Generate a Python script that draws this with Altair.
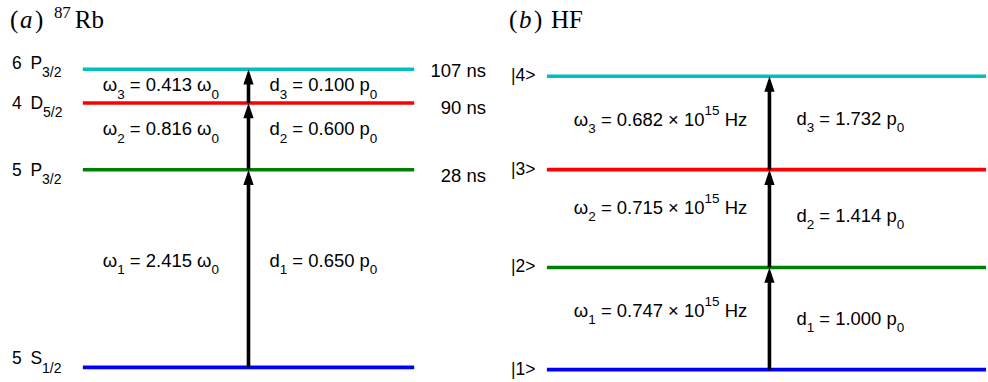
import altair as alt
import pandas as pd

# ---------------- level-scheme data ----------------
# (a) 87Rb ladder, bottom to top
RB_N = ["5", "5", "4", "6"]
RB_L = ["S", "P", "D", "P"]
RB_J = ["1/2", "3/2", "5/2", "3/2"]
RB_OMEGA = [2.415, 0.816, 0.413]      # transition frequencies in units of omega_0
RB_DIPOLE = [0.650, 0.600, 0.100]     # dipole moments in units of p_0
RB_LIFETIME = [None, 28, 90, 107]     # level lifetimes, ns

# (b) HF ladder, bottom to top
HF_KETS = ["|1>", "|2>", "|3>", "|4>"]
HF_OMEGA = [0.747, 0.715, 0.682]      # transition frequencies, x 10^15 Hz
HF_DIPOLE = [1.000, 1.414, 1.732]     # dipole moments in units of p_0

LEVEL_COLORS = ["#0000FF", "#008000", "#FF0000", "#00BFBF"]

# ---------------- layout / styling ----------------
H = 382
SANS = "Liberation Sans"
SERIF = "Liberation Serif"

SANS_W = {" ": .278, ".": .278, "=": .584, "\u00d7": .584, "\u03c9": .781, "H": .722,
          "z": .5, "d": .556, "p": .556, "n": .556, "s": .5, "P": .667, "D": .722,
          "S": .667, "/": .278, "|": .26, ">": .584, "\u2002": .5}
SERIF_W = {"(": .333, ")": .333, " ": .25, "a": .5, "b": .5, "R": .667, "H": .722, "F": .556}

STYLE = {
    "lvl":    dict(font=SANS, size=17.5, shift=0, style="normal", w=SANS_W, dig=.556),
    "lvlsub": dict(font=SANS, size=14, shift=8.5, style="normal", w=SANS_W, dig=.556),
    "m":      dict(font=SANS, size=18.5, shift=0, style="normal", w=SANS_W, dig=.556),
    "sub":    dict(font=SANS, size=13.5, shift=7.5, style="normal", w=SANS_W, dig=.556),
    "sup":    dict(font=SANS, size=13.5, shift=-11, style="normal", w=SANS_W, dig=.556),
    "ser":    dict(font=SERIF, size=25, shift=0, style="normal", w=SERIF_W, dig=.5),
    "seri":   dict(font=SERIF, size=25, shift=0, style="italic", w=SERIF_W, dig=.5),
    "sersup": dict(font=SERIF, size=17, shift=-10, style="normal", w=SERIF_W, dig=.5),
}


def text_width(s, kind):
    st = STYLE[kind]
    return sum(st["dig"] if c.isdigit() else st["w"].get(c, .556) for c in s) * st["size"]


class Panel:
    def __init__(self, base_px, ppu, width):
        self.base_px, self.ppu, self.width = base_px, ppu, width
        self.rows = []

    def px(self, e):
        return self.base_px - e * self.ppu

    def energy(self, y_px):
        return (self.base_px - y_px) / self.ppu

    def domain(self):
        return [self.energy(H), self.energy(0)]

    def rich(self, parts, x, baseline_px):
        """Lay out a run of (text, kind) pieces left to right."""
        cx = x
        for txt, kind in parts:
            lead = len(txt) - len(txt.lstrip(" "))
            body = txt.strip(" ")
            if body:
                self.rows.append(dict(
                    kind=kind, text=body,
                    x=cx + text_width(txt[:lead], kind),
                    y=self.energy(baseline_px + STYLE[kind]["shift"])))
            cx += text_width(txt, kind)

    def placed(self, pieces, baseline_px):
        """Pieces given as (text, kind, x) with their own left edges."""
        for txt, kind, x in pieces:
            self.rich([(txt, kind)], x, baseline_px)


def cumulative(steps):
    out = [0.0]
    for s in steps:
        out.append(out[-1] + s)
    return out


def build(panel, energies, level_len, arrow_x):
    xs = alt.Scale(domain=[0, panel.width], nice=False, zero=False)
    ys = alt.Scale(domain=panel.domain(), nice=False, zero=False)

    levels = pd.DataFrame(dict(x0=0, x1=level_len, y=energies, c=LEVEL_COLORS))
    trans = pd.DataFrame(dict(x=arrow_x, lo=energies[:-1], hi=energies[1:]))
    texts = pd.DataFrame(panel.rows)

    lvl = alt.Chart(levels).mark_rule(strokeWidth=3.6).encode(
        x=alt.X("x0:Q", scale=xs, axis=None), x2="x1:Q",
        y=alt.Y("y:Q", scale=ys, axis=None),
        color=alt.Color("c:N", scale=None))
    shaft = alt.Chart(trans).mark_rule(strokeWidth=3.6, color="black", y2Offset=8).encode(
        x=alt.X("x:Q", scale=xs, axis=None),
        y=alt.Y("lo:Q", scale=ys, axis=None), y2="hi:Q")
    head = alt.Chart(trans).mark_point(
        shape="M0,0L0.5,1.5L-0.5,1.5Z", size=420, filled=True, opacity=1,
        color="black", strokeWidth=0).encode(
        x=alt.X("x:Q", scale=xs, axis=None),
        y=alt.Y("hi:Q", scale=ys, axis=None))

    layers = [lvl, shaft, head]
    for kind, st in STYLE.items():
        if not (texts["kind"] == kind).any():
            continue
        layers.append(
            alt.Chart(texts).transform_filter(alt.datum.kind == kind)
            .mark_text(align="left", baseline="alphabetic", font=st["font"],
                       fontSize=st["size"], fontStyle=st["style"], color="black")
            .encode(x=alt.X("x:Q", scale=xs, axis=None),
                    y=alt.Y("y:Q", scale=ys, axis=None),
                    text="text:N"))
    return alt.layer(*layers).properties(width=panel.width, height=H)


# ---------------- panel (a): 87Rb ----------------
pa = Panel(base_px=367.7, ppu=81.97, width=332)
ea = cumulative(RB_OMEGA)
pa.placed([("(", "ser", -73), ("a", "seri", -63), (")", "ser", -48),
           ("87", "sersup", -29), ("Rb", "ser", -8)], 28)
for i, e in enumerate(ea):
    dy = [-3, 6, 5.5, -0.5][i]
    pa.rich([(f"{RB_N[i]}\u2002{RB_L[i]}", "lvl"), (RB_J[i], "lvlsub")], -71, pa.px(e) + dy)
    if RB_LIFETIME[i] is not None:
        s = f"{RB_LIFETIME[i]} ns"
        pa.rich([(s, "m")], 404 - text_width(s, "m"), pa.px(e) + [0, 12, 10.8, 7.6][i])
for k, (w, d) in enumerate(zip(RB_OMEGA, RB_DIPOLE)):
    mid = (pa.px(ea[k]) + pa.px(ea[k + 1])) / 2
    base = mid + [-2, -1, 5][k]
    pa.rich([("\u03c9", "m"), (str(k + 1), "sub"), (f" = {w:.3f} \u03c9", "m"), ("0", "sub")], 20, base)
    pa.rich([("d", "m"), (str(k + 1), "sub"), (f" = {d:.3f} p", "m"), ("0", "sub")], 187, base)
chart_a = build(pa, ea, 332, 166)

# ---------------- panel (b): HF ----------------
pb = Panel(base_px=370, ppu=137.1, width=440)
eb = cumulative(HF_OMEGA)
pb.placed([("(", "ser", -38), ("b", "seri", -28), (")", "ser", -13), ("HF", "ser", 4)], 28)
for i, e in enumerate(eb):
    pb.rich([(HF_KETS[i], "lvl")], -36, pb.px(e) + 5)
for k, (w, d) in enumerate(zip(HF_OMEGA, HF_DIPOLE)):
    mid = (pb.px(eb[k]) + pb.px(eb[k + 1])) / 2
    pb.rich([("\u03c9", "m"), (str(k + 1), "sub"), (f" = {w:.3f} \u00d7 10", "m"),
             ("15", "sup"), (" Hz", "m")], 27, mid + [-2, -5, 3][k])
    pb.rich([("d", "m"), (str(k + 1), "sub"), (f" = {d:.3f} p", "m"), ("0", "sub")],
            250, mid + [6, 3, 2][k])
chart_b = build(pb, eb, 440, 223)

chart = alt.hconcat(chart_a, chart_b, spacing=133, bounds="flush").properties(
    padding={"left": 10, "top": 0, "right": 0, "bottom": 0},
    background="white",
).configure_view(strokeWidth=0)

chart.save("out.html", embed_options={"renderer": "svg", "actions": False})
